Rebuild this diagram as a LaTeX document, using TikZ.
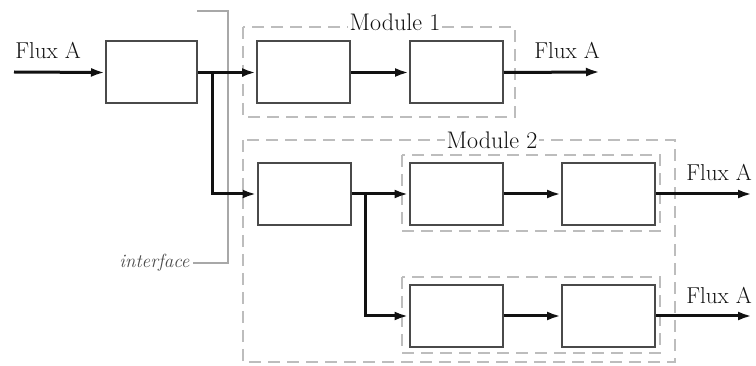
\documentclass[tikz,border=0pt]{standalone}
\usetikzlibrary{arrows.meta,positioning}
\definecolor{ink}{HTML}{111111}
\definecolor{edge}{HTML}{4A4A4A}
\definecolor{modgray}{HTML}{BDBDBD}
\definecolor{wire}{HTML}{A8A8A8}

\begin{document}
\begin{tikzpicture}[x=1pt,y=-1pt,line join=miter,every node/.style={font=\fontsize{23}{26}\selectfont,text=ink},
  unit/.style={draw=edge,line width=2pt,minimum width=93pt,minimum height=62pt,inner sep=0pt},
  flow/.style={-{Latex[length=14pt,width=9pt]},ink,line width=3pt},
  module/.style={draw=modgray,line width=2pt,dash pattern=on 12pt off 7pt},
  iface/.style={draw=wire,line width=2pt}]
\path[use as bounding box] (0,0) rectangle (756,366);

% modules
\draw[module] (243,27) rectangle (515,117);
\draw[module] (243,140) rectangle (675,362);
\draw[module] (402,155) rectangle (660,231);
\draw[module] (402,277) rectangle (660,353);
\node[fill=white,inner sep=2pt,font=\fontsize{24}{26}\selectfont] (m1) at (395,22) {Module 1};
\node[fill=white,inner sep=2pt,font=\fontsize{24}{26}\selectfont] (m2) at (492,140) {Module 2};

% blocks
\node[unit,minimum width=91pt] (b1) at (151.5,72.5) {};
\node[unit] (b2) at (303.5,72.5) {};
\node[unit] (b3) at (456.5,72.5) {};
\node[unit] (c1) at (304,194) {};
\node[unit] (d1) at (456,194) {};
\node[unit] (d2) at (608.5,194) {};
\node[unit] (e1) at (456,316) {};
\node[unit] (e2) at (608.5,316) {};

% interface
\node[anchor=east,font=\fontsize{19}{22}\selectfont\itshape,text=edge] (ifc) at (193,263) {interface};
\draw[iface] (ifc.east) -| (228,11) -- (197,11);

% flows
\coordinate (in) at (14,72);
\coordinate (j1) at (212,72);
\coordinate (j2) at (365,194);
\coordinate (out1) at (600,72);
\coordinate (out2) at (752,194);
\coordinate (out3) at (752,316);
\draw[flow] (in) -- (b1.west);
\draw[flow] (b1.east) -- (b2.west);
\draw[flow] (j1) |- (c1.west);
\draw[flow] (b2.east) -- (b3.west);
\draw[flow] (b3.east) -- (out1);
\draw[flow] (c1.east) -- (d1.west);
\draw[flow] (j2) |- (e1.west);
\draw[flow] (d1.east) -- (d2.west);
\draw[flow] (d2.east) -- (out2);
\draw[flow] (e1.east) -- (e2.west);
\draw[flow] (e2.east) -- (out3);
\node (lin) at (48,50) {Flux A};
\node (l1) at (567,50) {Flux A};
\node (l2) at (719,172) {Flux A};
\node (l3) at (719,295) {Flux A};

\end{tikzpicture}
\end{document}
